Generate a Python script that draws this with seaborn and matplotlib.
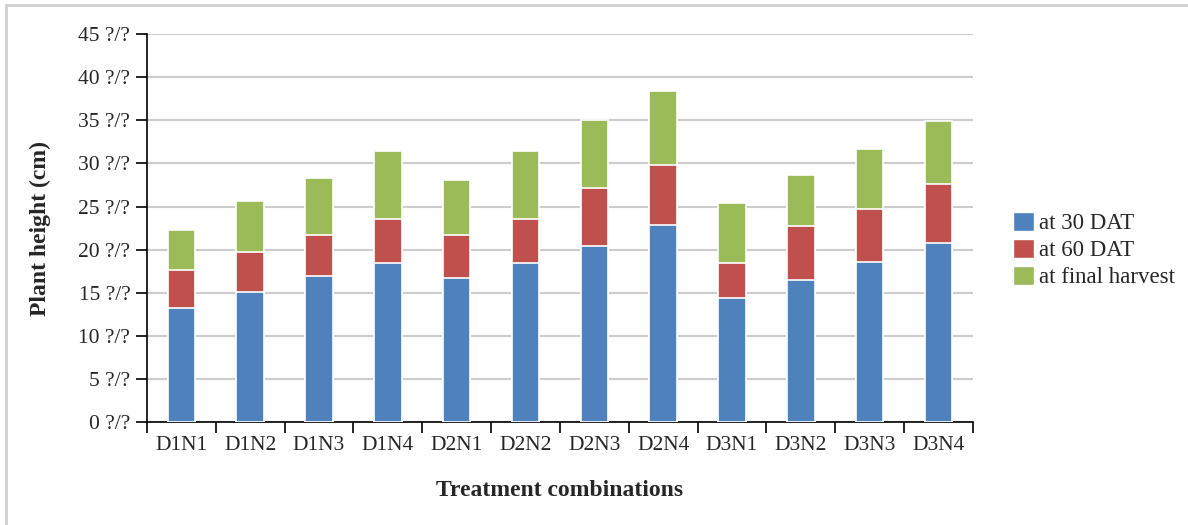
import pandas as pd
import matplotlib.pyplot as plt
import seaborn as sns
from matplotlib.patches import Patch
from matplotlib.lines import Line2D

# ---------- DATA (segment heights) ----------
treatments = ["D1N1", "D1N2", "D1N3", "D1N4", "D2N1", "D2N2",
              "D2N3", "D2N4", "D3N1", "D3N2", "D3N3", "D3N4"]
at_30_dat = [13.2, 15.1, 16.9, 18.4, 16.7, 18.5, 20.4, 22.9, 14.4, 16.5, 18.6, 20.8]
at_60_dat = [4.4, 4.6, 4.8, 5.2, 5.0, 5.1, 6.8, 6.9, 4.1, 6.2, 6.1, 6.8]
at_final_harvest = [4.7, 5.9, 6.6, 7.9, 6.4, 7.9, 7.8, 8.6, 6.9, 5.95, 7.0, 7.3]
series_labels = ["at 30 DAT", "at 60 DAT", "at final harvest"]
yticks = [0, 5, 10, 15, 20, 25, 30, 35, 40, 45]

colors = ["#4f81bd", "#c0504d", "#9bbb59"]

df = pd.DataFrame({"Treatment": treatments, "d30": at_30_dat,
                   "d60": at_60_dat, "final": at_final_harvest})
# cumulative tops for stacked drawing
df["top30"] = df["d30"]
df["top60"] = df["d30"] + df["d60"]
df["topfinal"] = df["top60"] + df["final"]

# ---------- STYLE ----------
sns.set_style("ticks")
plt.rcParams["font.family"] = ["Liberation Serif", "DejaVu Serif"]

fig = plt.figure(figsize=(11.88, 5.25), dpi=100)
ax = fig.add_axes([0.1237, 0.196, 0.6953, 0.739])

# light frame only on top and left edges
fig.add_artist(Line2D([6 / 1188, 1], [1 - 5 / 525] * 2, transform=fig.transFigure,
                      color="#d0d0d0", linewidth=2))
fig.add_artist(Line2D([6 / 1188] * 2, [0, 1 - 5 / 525], transform=fig.transFigure,
                      color="#d0d0d0", linewidth=2))

# draw tallest first so lower segments sit on top
for col, c in zip(["topfinal", "top60", "top30"], colors[::-1]):
    sns.barplot(data=df, x="Treatment", y=col, color=c, width=0.4,
                edgecolor="white", linewidth=1.2, saturation=1, ax=ax, zorder=3)

ax.set_xlim(-0.5, len(treatments) - 0.5)
ax.set_ylim(0, 45)
ax.set_yticks(yticks)
ax.set_yticklabels([f"{v} ?/?" for v in yticks], fontsize=15.5)
ax.set_xticks(range(len(treatments)))
ax.set_xticklabels(treatments, fontsize=15.5)
ax.tick_params(axis="x", length=0, pad=10)
ax.tick_params(axis="y", length=8, width=1.2, color="black", direction="out", pad=4)
# boundary ticks on the x axis
ax.set_xticks([i - 0.5 for i in range(len(treatments) + 1)], minor=True)
ax.tick_params(axis="x", which="minor", length=8, width=1.2, color="black", direction="out")

ax.yaxis.grid(True, color="#cccccc", linewidth=1.5, zorder=0)
ax.set_axisbelow(True)
for s in ["top", "right"]:
    ax.spines[s].set_visible(False)
for s in ["left", "bottom"]:
    ax.spines[s].set_color("black")
    ax.spines[s].set_linewidth(1.2)

ax.set_xlabel("Treatment combinations", fontsize=17, fontweight="bold", labelpad=18)
ax.set_ylabel("Plant height (cm)", fontsize=17, fontweight="bold", labelpad=20)

handles = [Patch(facecolor=c, edgecolor="white", label=l) for c, l in zip(colors, series_labels)]
fig.legend(handles=handles, loc="center left", bbox_to_anchor=(1013 / 1188, 0.524),
           frameon=False, fontsize=16.5, handlelength=0.9, handleheight=0.9,
           handletextpad=0.25, labelspacing=0.2, borderaxespad=0, borderpad=0)

fig.savefig("out.png", dpi=100)
